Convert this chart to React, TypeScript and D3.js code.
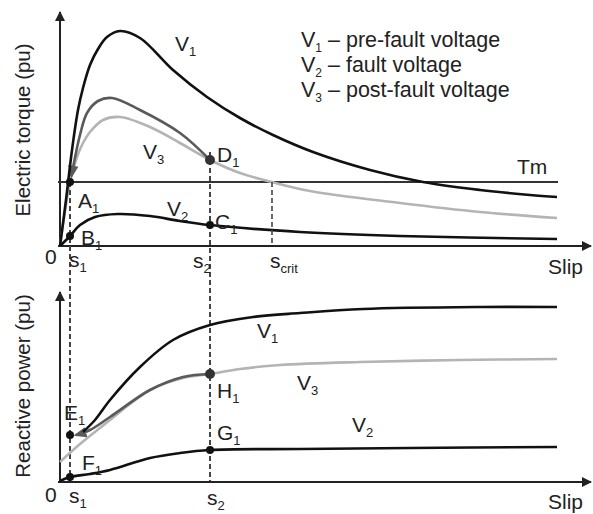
import { useMemo } from "react";
import * as d3 from "d3";

type Pt = [number, number];

// slip (0..100) vs torque (arbitrary pu units)
const torqueV1: Pt[] = [
  [0, 0], [1.2, 23], [2.4, 48], [3.6, 68], [4.6, 79], [6, 90.5], [7.6, 98.5],
  [9.4, 104.5], [12, 107.5], [16, 104], [22.6, 88], [29.4, 74.5], [36, 64],
  [42.6, 55.5], [50.6, 47], [62, 38], [72.6, 32], [84, 28], [94, 25.5], [99.4, 24.5],
];
const torqueV3: Pt[] = [
  [0, 0], [2, 32], [3.2, 43], [4.4, 50.5], [6, 57], [8.6, 63], [12, 64.5],
  [18, 59.5], [24, 51.5], [30, 43], [36, 36.5], [42.4, 32], [50, 27.5],
  [68, 21.5], [84, 17], [99.4, 14],
];
const torqueTrajectory: Pt[] = [
  [30, 43], [24, 56.5], [16, 68], [10.4, 74], [7.6, 72.5], [5.4, 66.5],
  [4, 55.5], [2.9, 43], [2.3, 35],
];
const torqueV2: Pt[] = [
  [0, 0], [2, 5], [4, 10.5], [7, 14.5], [11.6, 16], [18, 15], [24, 12.5],
  [30, 10.5], [48, 7], [68, 5], [99.4, 3.5],
];
const mechTorque = 32;
const torqueEnd = 99.6;

const qV1: Pt[] = [
  [4.6, 25], [7, 31], [10, 41], [16, 57.5], [22.6, 71], [30, 78.5], [38.6, 82.5],
  [48, 84.5], [60.6, 86.5], [84, 87.5], [99.4, 87.5],
];
const qV3: Pt[] = [
  [0, 10], [4, 19], [10, 31], [14, 39], [18, 46], [24.6, 52], [30, 54],
  [36, 56.5], [44, 58.5], [60, 60], [80, 61], [99.4, 61.5],
];
const qTrajectory: Pt[] = [
  [30, 54], [24.6, 52.5], [18, 46], [10, 32.5], [6, 26], [3.2, 23.5],
];
const qV2: Pt[] = [
  [0, 0.5], [2, 2.5], [6, 4], [10, 6], [18, 12], [24, 14.5], [30, 16],
  [48, 16.5], [70, 17], [99.4, 17.5],
];

const slip1 = 2;
const slip2 = 30;
const slipCrit = 42.4;

const topPoints: { name: string; x: number; y: number }[] = [
  { name: "A", x: slip1, y: 32 },
  { name: "B", x: slip1, y: 5 },
  { name: "C", x: slip2, y: 10.5 },
  { name: "D", x: slip2, y: 43 },
];
const bottomPoints: { name: string; x: number; y: number }[] = [
  { name: "E", x: slip1, y: 23.5 },
  { name: "F", x: slip1, y: 2.5 },
  { name: "G", x: slip2, y: 16 },
  { name: "H", x: slip2, y: 54 },
];

const legendRows = ["pre-fault voltage", "fault voltage", "post-fault voltage"];

const W = 593;
const H = 514;
const FONT = "'Liberation Sans', Arial, sans-serif";
const BLACK = "#111";
const DARK = "#5a5a5a";
const LIGHT = "#b4b4b4";

const Sub = ({ x, y, main, sub, size = 21 }: { x: number; y: number; main: string; sub: string; size?: number }) => (
  <text x={x} y={y} fontSize={size} fontFamily={FONT} fill="#222">
    {main}
    <tspan dy={5} fontSize={size * 0.62}>{sub}</tspan>
  </text>
);

export default function App() {
  const x = d3.scaleLinear().domain([0, 100]).range([60, 560]);
  const yTop = d3.scaleLinear().domain([0, 100]).range([246, 46]);
  const yBot = d3.scaleLinear().domain([0, 100]).range([482, 282]);

  const lineTop = useMemo(
    () => d3.line<Pt>().x((d) => x(d[0])).y((d) => yTop(d[1])).curve(d3.curveCatmullRom.alpha(0.5)),
    []
  );
  const lineBot = useMemo(
    () => d3.line<Pt>().x((d) => x(d[0])).y((d) => yBot(d[1])).curve(d3.curveCatmullRom.alpha(0.5)),
    []
  );

  const axisColor = "#222";
  const dash = "5 3";

  return (
    <svg width={W} height={H} style={{ position: "absolute", left: 0, top: 0 }}>
      <defs>
        <marker id="ax" viewBox="0 0 10 10" refX="9" refY="5" markerWidth="5" markerHeight="5" orient="auto">
          <path d="M0,0 L10,5 L0,10 z" fill={axisColor} />
        </marker>
        <marker id="tr" viewBox="0 0 10 10" refX="8" refY="5" markerWidth="5" markerHeight="5" orient="auto">
          <path d="M0,1 L10,5 L0,9 z" fill={DARK} />
        </marker>
      </defs>
      <rect width={W} height={H} fill="#fff" />

      {/* ---------- torque panel ---------- */}
      <line x1={x(0)} y1={yTop(0)} x2={x(0)} y2={12} stroke={axisColor} strokeWidth={2} markerEnd="url(#ax)" />
      <line x1={x(-0.4)} y1={yTop(0)} x2={591} y2={yTop(0)} stroke={axisColor} strokeWidth={2} markerEnd="url(#ax)" />
      <line x1={x(-0.4)} y1={yTop(mechTorque)} x2={x(torqueEnd)} y2={yTop(mechTorque)} stroke="#333" strokeWidth={2} />

      <path d={lineTop(torqueV3) ?? ""} fill="none" stroke={LIGHT} strokeWidth={2.6} />
      <path d={lineTop(torqueTrajectory) ?? ""} fill="none" stroke={DARK} strokeWidth={2.6} markerEnd="url(#tr)" />
      <path d={lineTop(torqueV1) ?? ""} fill="none" stroke={BLACK} strokeWidth={2.6} />
      <path d={lineTop(torqueV2) ?? ""} fill="none" stroke={BLACK} strokeWidth={2.6} />

      {/* dashed slip markers */}
      <line x1={x(slip1)} y1={yTop(mechTorque)} x2={x(slip1)} y2={yBot(0)} stroke="#444" strokeWidth={2} strokeDasharray={dash} />
      <line x1={x(slip2)} y1={yTop(47)} x2={x(slip2)} y2={yBot(0)} stroke="#444" strokeWidth={2} strokeDasharray={dash} />
      <line x1={x(slipCrit)} y1={yTop(mechTorque)} x2={x(slipCrit)} y2={yTop(0)} stroke="#444" strokeWidth={1.6} strokeDasharray={dash} />

      {topPoints.map((p) => (
        <circle key={p.name} cx={x(p.x)} cy={yTop(p.y)} r={p.name === "D" ? 5 : 4} fill={p.name === "D" ? "#333" : BLACK} />
      ))}

      <Sub x={175} y={51} main="V" sub="1" />
      <Sub x={143} y={159} main="V" sub="3" />
      <Sub x={167} y={216} main="V" sub="2" />
      <Sub x={78} y={208} main="A" sub="1" />
      <Sub x={81} y={245} main="B" sub="1" />
      <Sub x={215} y={229} main="C" sub="1" />
      <Sub x={217} y={162} main="D" sub="1" />
      <text x={517} y={174} fontSize={21} fontFamily={FONT} fill="#222">Tm</text>
      <text x={45} y={264} fontSize={21} fontFamily={FONT} fill="#222">0</text>
      <Sub x={69} y={267} main="s" sub="1" />
      <Sub x={193} y={268} main="s" sub="2" />
      <Sub x={270} y={268} main="s" sub="crit" />
      <text x={548} y={274} fontSize={21} fontFamily={FONT} fill="#222">Slip</text>

      {legendRows.map((label, i) => (
        <text key={label} x={301} y={47 + i * 25} fontSize={21.5} fontFamily={FONT} fill="#222">
          V<tspan dy={5} fontSize={12}>{i + 1}</tspan>
          <tspan dy={-5}>{" \u2013 " + label}</tspan>
        </text>
      ))}

      <text
        transform={`translate(30,130) rotate(-90)`}
        textAnchor="middle"
        fontSize={20.5}
        fontFamily={FONT}
        fill="#222"
      >
        Electric torque (pu)
      </text>

      {/* ---------- reactive power panel ---------- */}
      <line x1={x(0)} y1={yBot(0)} x2={x(0)} y2={292} stroke={axisColor} strokeWidth={2} markerEnd="url(#ax)" />
      <line x1={x(-0.4)} y1={yBot(0)} x2={591} y2={yBot(0)} stroke={axisColor} strokeWidth={2} markerEnd="url(#ax)" />

      <path d={lineBot(qV3) ?? ""} fill="none" stroke={LIGHT} strokeWidth={2.6} />
      <path d={lineBot(qTrajectory) ?? ""} fill="none" stroke={DARK} strokeWidth={2.6} markerEnd="url(#tr)" />
      <path d={lineBot(qV1) ?? ""} fill="none" stroke={BLACK} strokeWidth={2.6} />
      <path d={lineBot(qV2) ?? ""} fill="none" stroke={BLACK} strokeWidth={2.6} />

      {bottomPoints.map((p) => (
        <circle key={p.name} cx={x(p.x)} cy={yBot(p.y)} r={p.name === "H" ? 5 : 4} fill={p.name === "H" ? "#333" : BLACK} />
      ))}

      <Sub x={257} y={338} main="V" sub="1" />
      <Sub x={297} y={390} main="V" sub="3" />
      <Sub x={352} y={432} main="V" sub="2" />
      <Sub x={217} y={398} main="H" sub="1" />
      <Sub x={217} y={440} main="G" sub="1" />
      <Sub x={64} y={420} main="E" sub="1" />
      <Sub x={82} y={470} main="F" sub="1" />
      <text x={45} y={502} fontSize={21} fontFamily={FONT} fill="#222">0</text>
      <Sub x={69} y={503} main="s" sub="1" />
      <Sub x={207} y={505} main="s" sub="2" />
      <text x={548} y={509} fontSize={21} fontFamily={FONT} fill="#222">Slip</text>

      <text
        transform={`translate(30,386) rotate(-90)`}
        textAnchor="middle"
        fontSize={20.5}
        fontFamily={FONT}
        fill="#222"
      >
        Reactive power (pu)
      </text>
    </svg>
  );
}
